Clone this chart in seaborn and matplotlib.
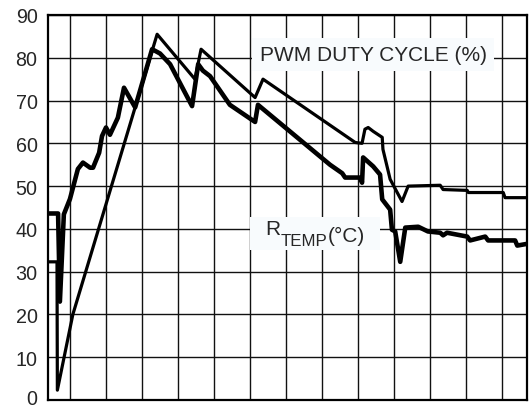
import matplotlib
matplotlib.use("Agg")
import matplotlib.pyplot as plt
import seaborn as sns
import pandas as pd
from matplotlib.patches import Rectangle
from matplotlib.transforms import Bbox, ScaledTranslation

# Time axis in grid divisions (unlabelled), values in % and °C
time_pwm = [0.39, 0.64, 0.65, 1.08, 3.42, 4.47, 4.64, 6.14, 6.36, 8.92, 9.11,
            9.19, 9.28, 9.42, 9.67, 9.69, 9.89, 10.22, 10.39, 11.28, 11.36,
            12.03, 12.06, 13.03, 13.08, 13.69]
pwm_duty = [32.3, 32.3, 2.3, 20.0, 85.5, 75.0, 82.0, 70.7, 75.0, 60.2, 60.0,
            63.3, 63.7, 62.8, 61.4, 58.6, 51.6, 46.4, 50.0, 50.2, 49.2,
            49.0, 48.5, 48.5, 47.3, 47.3]

time_rtemp = [0.39, 0.67, 0.72, 0.83, 1.00, 1.22, 1.36, 1.56, 1.64, 1.81, 1.89,
              2.00, 2.11, 2.33, 2.50, 2.81, 3.28, 3.50, 3.78, 4.06, 4.39, 4.56,
              4.69, 4.89, 5.44, 6.14, 6.22, 8.22, 8.56, 8.64, 9.06, 9.11, 9.14,
              9.42, 9.61, 9.67, 9.89, 9.94, 10.03, 10.17, 10.31, 10.67, 10.94,
              11.28, 11.36, 11.47, 12.03, 12.11, 12.53, 12.61, 13.36, 13.42,
              13.69]
rtemp = [43.6, 43.6, 23.0, 43.4, 47.0, 54.0, 55.5, 54.3, 54.3, 57.8, 61.7,
         63.7, 62.0, 66.0, 73.0, 68.4, 82.0, 81.0, 78.5, 74.0, 68.7, 78.5,
         77.0, 75.7, 69.0, 65.0, 69.0, 55.0, 53.0, 52.0, 52.0, 50.8, 56.7,
         54.6, 52.7, 46.9, 44.5, 39.8, 39.4, 32.3, 40.3, 40.5, 39.4,
         39.1, 38.5, 39.1, 38.2, 37.3, 38.2, 37.3, 37.3, 36.1,
         36.5]

y_ticks = [0, 10, 20, 30, 40, 50, 60, 70, 80, 90]
x_grid = list(range(1, 14))

pwm_label = "PWM DUTY CYCLE (%)"
rtemp_main, rtemp_sub, rtemp_unit = "R", "TEMP", "(°C)"

sns.set_style("white")
plt.rcParams["font.family"] = ["Liberation Sans", "DejaVu Sans"]

fig = plt.figure(figsize=(5.31, 4.10), dpi=100)
ax = fig.add_axes([48 / 531, 9 / 410, 479 / 531, 385 / 410])

df_pwm = pd.DataFrame({"t": time_pwm, "v": pwm_duty})
df_rt = pd.DataFrame({"t": time_rtemp, "v": rtemp})

sns.lineplot(data=df_pwm, x="t", y="v", ax=ax, color="black", linewidth=2.3,
             sort=False, estimator=None, zorder=3)
sns.lineplot(data=df_rt, x="t", y="v", ax=ax, color="black", linewidth=3.3,
             sort=False, estimator=None, zorder=3)

ax.set_xlim(0.39, 13.69)
ax.set_ylim(0, 90)
ax.set_yticks(y_ticks)
ax.set_yticklabels([str(v) for v in y_ticks], fontsize=14.2)
ax.set_xticks(x_grid)
ax.set_xticklabels([])
ax.tick_params(axis="both", length=0)
ax.tick_params(axis="y", pad=7.5)
ax.set_xlabel("")
ax.set_ylabel("")

# nudge the bottom label so it stays inside the canvas
zero_lbl = ax.get_yticklabels()[0]
zero_lbl.set_transform(zero_lbl.get_transform()
                       + ScaledTranslation(0, 2.5 / 72, fig.dpi_scale_trans))

ax.grid(True, color="#111111", linewidth=1.0, zorder=1)
ax.set_axisbelow(True)
for s in ax.spines.values():
    s.set_visible(True)
    s.set_color("black")
    s.set_linewidth(1.6)

label_bg = "#f8fbfd"
box = dict(boxstyle="square,pad=0.35", facecolor=label_bg, edgecolor="none")
ax.text(9.42, 80.8, pwm_label, fontsize=15, ha="center", va="center",
        bbox=box, zorder=4)

# R_TEMP(°C) label built from pieces so the subscript can be sized freely
t_r = ax.text(6.42, 38.8, rtemp_main, fontsize=15, ha="left", va="baseline",
              zorder=5)
t_sub = ax.annotate(rtemp_sub, xy=(1, 0), xycoords=t_r, xytext=(0.3, -5.0),
                    textcoords="offset points", fontsize=12.2, ha="left",
                    va="baseline", zorder=5)
t_unit = ax.annotate(rtemp_unit, xy=(1, 0), xycoords=t_sub, xytext=(0, 5.0),
                     textcoords="offset points", fontsize=15, ha="left",
                     va="baseline", zorder=5)

fig.canvas.draw()
renderer = fig.canvas.get_renderer()
bb = Bbox.union([a.get_window_extent(renderer) for a in (t_r, t_sub, t_unit)])
bg = Rectangle((bb.x0 - 15, bb.y0 - 2), bb.width + 30, bb.height + 4,
               transform=None, facecolor=label_bg, edgecolor="none", zorder=4)
ax.add_artist(bg)

fig.savefig("out.png", dpi=100)
